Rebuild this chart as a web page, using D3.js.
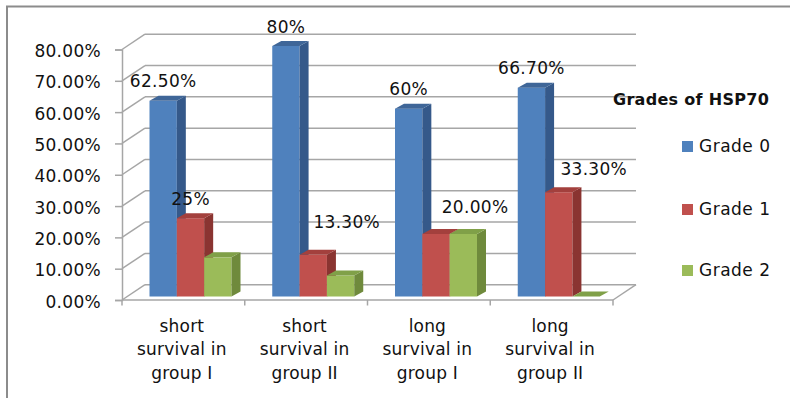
<!DOCTYPE html>
<html>
<head>
<meta charset="utf-8">
<script src="https://cdn.jsdelivr.net/npm/d3@7/dist/d3.min.js"></script>
<style>
  html, body { margin: 0; padding: 0; background: #fff; }
  svg { display: block; }
  text { font-family: "DejaVu Sans", sans-serif; fill: #111; }
</style>
</head>
<body>
<svg id="chart" width="790" height="398"></svg>
<script>
// Survival groups on the x axis
const categories = [
  ["short", "survival in", "group I"],
  ["short", "survival in", "group II"],
  ["long", "survival in", "group I"],
  ["long", "survival in", "group II"]
];
const seriesNames = ["Grade 0", "Grade 1", "Grade 2"];
// Percentage of cases per HSP70 grade
const grade0 = [0.625, 0.80, 0.60, 0.667];
const grade1 = [0.25, 0.133, 0.20, 0.333];
const grade2 = [0.125, 0.067, 0.20, 0.0];
const yTicks = [0, 0.1, 0.2, 0.3, 0.4, 0.5, 0.6, 0.7, 0.8];
const legendTitle = "Grades of HSP70";
// Value labels: [series index, category index, text]
const valueLabels = [
  [0, 0, "62.50%"], [0, 1, "80%"], [0, 2, "60%"], [0, 3, "66.70%"],
  [1, 0, "25%"], [1, 1, "13.30%"], [2, 2, "20.00%"], [1, 3, "33.30%"]
];

// ---- layout ----
const seriesValues = [grade0, grade1, grade2];
const faceColors = ["#4F81BD", "#C0504D", "#9BBB59"];
const sideColors = ["#35598A", "#8A3431", "#6F8A3C"];
const topColors  = ["#3F6698", "#A3403D", "#80A048"];
const labelNudge = { "1-1": [33.5, -13.6], "2-2": [11.7, -7.6], "1-3": [35, -3.7] };

const depth = { dx: 23, dy: -15.3 };     // wall depth
const face = { dx: 5, dy: -3.5 };        // bar front face offset into the box
const barDepth = { dx: 9, dy: -5 };      // bar thickness

const svg = d3.select("#chart");
svg.append("rect").attr("x", 0).attr("y", 0).attr("width", 790).attr("height", 398).attr("fill", "#fff");
// outer frame
svg.append("rect").attr("x", 7).attr("y", 6.5).attr("width", 800).attr("height", 420)
  .attr("fill", "none").attr("stroke", "#8c8c8c").attr("stroke-width", 2);

const x = d3.scaleBand().domain(d3.range(categories.length)).range([122, 613]);
const sub = d3.scaleBand().domain(d3.range(seriesNames.length)).range([22.5, 104.5]);
const y = d3.scaleLinear().domain([0, 0.8]).range([300, 49.5]);

const x0 = x.range()[0], x1 = x.range()[1];
const gridColor = "#a6a6a6";
const grid = svg.append("g").attr("stroke", gridColor).attr("stroke-width", 1.5).attr("fill", "none");

// back wall lines and side-wall diagonals
yTicks.forEach(t => {
  const yy = y(t);
  grid.append("line").attr("x1", x0 + depth.dx).attr("x2", x1 + depth.dx)
    .attr("y1", yy + depth.dy).attr("y2", yy + depth.dy);
  grid.append("line").attr("x1", x0).attr("y1", yy)
    .attr("x2", x0 + depth.dx).attr("y2", yy + depth.dy);
});
// floor front edge and right diagonal
grid.append("line").attr("x1", x0).attr("x2", x1).attr("y1", y(0)).attr("y2", y(0));
grid.append("line").attr("x1", x1).attr("y1", y(0))
  .attr("x2", x1 + depth.dx).attr("y2", y(0) + depth.dy);

// y axis
const yAxis = d3.axisLeft(y).tickValues(yTicks).tickFormat(d3.format(".2%")).tickSize(7).tickPadding(14);
const gy = svg.append("g").attr("transform", `translate(${x0},0)`).call(yAxis);
gy.select(".domain").attr("stroke", gridColor).attr("stroke-width", 1.5);
gy.selectAll(".tick line").attr("stroke", gridColor).attr("stroke-width", 1.5);
gy.selectAll(".tick text").attr("font-size", 17).attr("fill", "#111")
  .attr("letter-spacing", 0.3).attr("dy", "0.42em").attr("font-family", "DejaVu Sans, sans-serif");

// x axis ticks at category boundaries
const xBounds = d3.range(categories.length + 1).map(i => x0 + i * x.step());
svg.append("g").selectAll("line").data(xBounds).join("line")
  .attr("x1", d => d).attr("x2", d => d).attr("y1", y(0)).attr("y2", y(0) + 5.5)
  .attr("stroke", gridColor).attr("stroke-width", 1.5);

// category labels
const catG = svg.append("g");
categories.forEach((lines, i) => {
  const cx = x(i) + x.bandwidth() / 2 - 1.5;
  const t = catG.append("text").attr("text-anchor", "middle").attr("font-size", 17)
    .attr("letter-spacing", 0.2);
  lines.forEach((ln, k) => {
    t.append("tspan").attr("x", cx).attr("y", 331.5 + k * 23.8).text(ln);
  });
});

// 3D bars
const bars = svg.append("g");
function barGeom(s, c) {
  const left = x(c) + sub(s) + face.dx;
  const right = left + sub.bandwidth();
  const base = y(0) + face.dy;
  const top = y(seriesValues[s][c]) + face.dy;
  return { left, right, base, top };
}
categories.forEach((_, c) => {
  seriesNames.forEach((_, s) => {
    const g = barGeom(s, c);
    const { dx, dy } = barDepth;
    if (g.base - g.top > 0.01) {
      bars.append("rect").attr("x", g.left).attr("y", g.top)
        .attr("width", g.right - g.left).attr("height", g.base - g.top).attr("fill", faceColors[s]);
      bars.append("path").attr("fill", sideColors[s])
        .attr("d", `M${g.right},${g.top}L${g.right + dx},${g.top + dy}L${g.right + dx},${g.base + dy}L${g.right},${g.base}Z`);
    }
    bars.append("path").attr("fill", topColors[s])
      .attr("d", `M${g.left},${g.top}L${g.left + dx},${g.top + dy}L${g.right + dx},${g.top + dy}L${g.right},${g.top}Z`);
  });
});

// value labels
const lab = svg.append("g");
valueLabels.forEach(([s, c, txt]) => {
  const g = barGeom(s, c);
  const n = labelNudge[`${s}-${c}`] || [0, 0];
  lab.append("text").attr("text-anchor", "middle").attr("font-size", 17).attr("letter-spacing", 0.3)
    .attr("x", (g.left + g.right) / 2 + n[0]).attr("y", g.top - 13.5 + n[1]).text(txt);
});

// legend
const leg = svg.append("g");
leg.append("text").attr("x", 613).attr("y", 105).attr("font-size", 16).attr("font-weight", "bold")
  .attr("letter-spacing", 0.3).text(legendTitle);
const legY = [152, 215, 276];
seriesNames.forEach((name, i) => {
  leg.append("rect").attr("x", 682).attr("y", legY[i] - 11).attr("width", 11).attr("height", 11).attr("fill", faceColors[i]);
  leg.append("text").attr("x", 699).attr("y", legY[i]).attr("font-size", 17).attr("letter-spacing", 0.5).text(name);
});
</script>
</body>
</html>
